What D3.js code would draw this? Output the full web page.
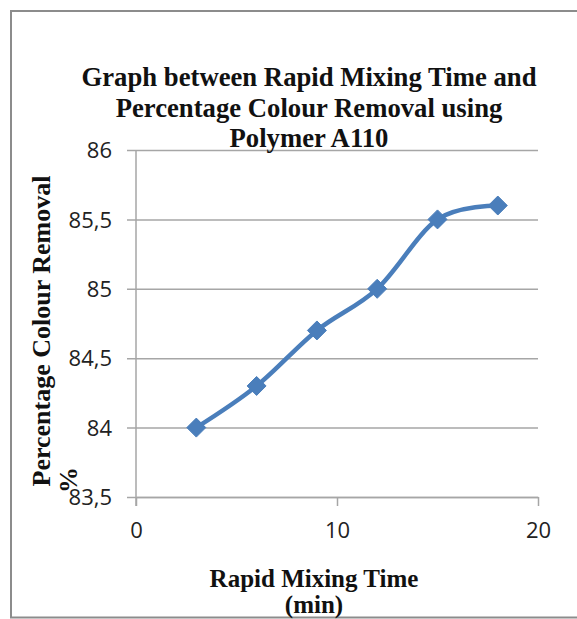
<!DOCTYPE html>
<html>
<head>
<meta charset="utf-8">
<script src="https://cdn.jsdelivr.net/npm/d3@7/dist/d3.min.js"></script>
<style>
  html, body { margin: 0; padding: 0; background: #fff; }
  svg { display: block; }
</style>
</head>
<body>
<svg id="chart" width="577" height="619"></svg>
<script>
// Rapid mixing time (min) against colour removal (%)
const mixingTime = [3, 6, 9, 12, 15, 18];
const colourRemoval = [84.0, 84.3, 84.7, 85.0, 85.5, 85.6];
const xTicks = [0, 10, 20];
const yTicks = [83.5, 84, 84.5, 85, 85.5, 86];
const titleLines = ["Graph between Rapid Mixing Time and", "Percentage Colour Removal using", "Polymer A110"];
const xTitleLines = ["Rapid Mixing Time", "(min)"];
const yTitleLines = ["Percentage Colour Removal", "%"];

const svg = d3.select("#chart");
const W = 577, H = 619;
const plot = { left: 136, right: 538, top: 150, bottom: 497 };

const x = d3.scaleLinear().domain([0, 20]).range([plot.left, plot.right]);
const y = d3.scaleLinear().domain([83.5, 86]).range([plot.bottom, plot.top]);

const gridColor = "#a6a6a6";
const serif = "'Liberation Serif', 'Times New Roman', serif";
const sans = "'Open Sans', 'Noto Sans', sans-serif";
const blue = "#4a7ebb";

// outer frame
svg.append("path")
  .attr("d", `M${W},11 L11,11 L11,617.5 L${W},617.5`)
  .attr("fill", "none")
  .attr("stroke", "#8c8c8c")
  .attr("stroke-width", 2);

// horizontal gridlines with left tick stubs
const yAxis = d3.axisLeft(y).tickValues(yTicks)
  .tickSize(-(plot.right - plot.left))
  .tickFormat(d => String(d).replace(".", ","));
const gy = svg.append("g").attr("transform", `translate(${plot.left},0)`).call(yAxis);
gy.select(".domain").remove();
gy.selectAll(".tick line")
  .attr("x1", -9)
  .attr("stroke", gridColor)
  .attr("stroke-width", 1.5);
gy.selectAll(".tick text")
  .attr("x", -24)
  .attr("dy", "0.35em")
  .attr("fill", "#222")
  .style("font-family", sans)
  .style("font-size", "22px");

// vertical axis line
svg.append("line")
  .attr("x1", plot.left).attr("x2", plot.left)
  .attr("y1", plot.top).attr("y2", plot.bottom + 9)
  .attr("stroke", gridColor).attr("stroke-width", 1.5);

// horizontal axis with downward ticks
const xAxis = d3.axisBottom(x).tickValues(xTicks).tickSize(9).tickSizeOuter(0);
const gx = svg.append("g").attr("transform", `translate(0,${plot.bottom})`).call(xAxis);
gx.select(".domain").attr("stroke", gridColor).attr("stroke-width", 1.5);
gx.selectAll(".tick line").attr("stroke", gridColor).attr("stroke-width", 1.5);
gx.selectAll(".tick text")
  .attr("y", 25)
  .attr("dy", "0.71em")
  .attr("fill", "#222")
  .style("font-family", sans)
  .style("font-size", "22px");

// smoothed data line
const pts = mixingTime.map((t, i) => [t, colourRemoval[i]]);
const line = d3.line()
  .x(d => x(d[0]))
  .y(d => y(d[1]))
  .curve(d3.curveCatmullRom.alpha(0));
svg.append("path")
  .datum(pts)
  .attr("d", line)
  .attr("fill", "none")
  .attr("stroke", blue)
  .attr("stroke-width", 4.5)
  .attr("stroke-linejoin", "round");

// diamond markers
const diamond = d3.symbol().type(d3.symbolDiamond2).size(230);
svg.append("g").selectAll("path")
  .data(pts)
  .join("path")
  .attr("d", diamond)
  .attr("transform", d => `translate(${x(d[0])},${y(d[1])})`)
  .attr("fill", blue)
  .attr("stroke", blue)
  .attr("stroke-width", 1);

// chart title
const title = svg.append("text")
  .attr("text-anchor", "middle")
  .style("font-family", serif)
  .style("font-weight", "bold")
  .style("font-size", "26.7px")
  .attr("fill", "#111");
titleLines.forEach((t, i) => {
  title.append("tspan").attr("x", 309).attr("y", 86 + i * 30.5).text(t);
});

// x axis title
const xt = svg.append("text")
  .attr("text-anchor", "middle")
  .style("font-family", serif)
  .style("font-weight", "bold")
  .style("font-size", "25px")
  .attr("fill", "#111");
xTitleLines.forEach((t, i) => {
  xt.append("tspan").attr("x", 314).attr("y", 587 + i * 26).text(t);
});

// y axis title (rotated)
svg.append("text")
  .attr("transform", "translate(50,331) rotate(-90)")
  .attr("text-anchor", "middle")
  .style("font-family", serif)
  .style("font-weight", "bold")
  .style("font-size", "26px")
  .attr("fill", "#111")
  .text(yTitleLines[0]);
svg.append("text")
  .attr("transform", "translate(77,493) rotate(-90)")
  .attr("text-anchor", "start")
  .style("font-family", serif)
  .style("font-weight", "bold")
  .style("font-size", "26px")
  .attr("fill", "#111")
  .text(yTitleLines[1]);
</script>
</body>
</html>
